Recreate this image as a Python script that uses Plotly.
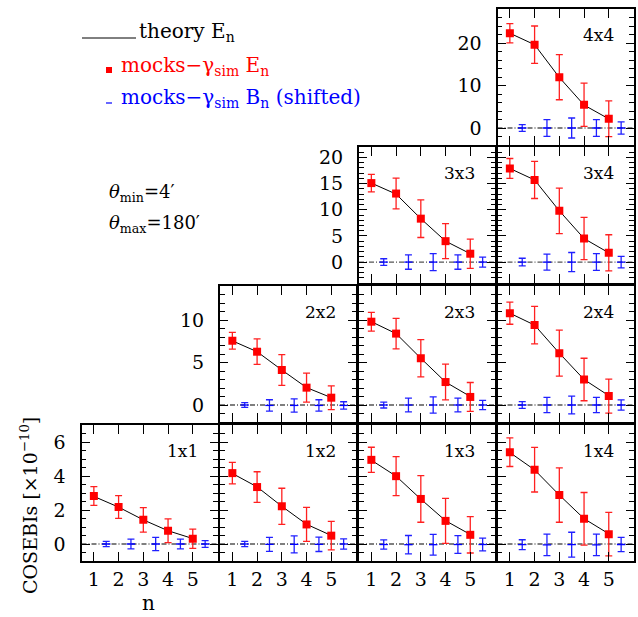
import plotly.graph_objects as go

# ---------------- data ----------------
n = [1, 2, 3, 4, 5]
n_shifted = [1.5, 2.5, 3.5, 4.5, 5.5]
panels = ["1x1", "1x2", "1x3", "1x4", "2x2", "2x3", "2x4", "3x3", "3x4", "4x4"]

theory_E = [
    [2.80, 2.17, 1.42, 0.78, 0.32],
    [4.15, 3.36, 2.22, 1.16, 0.50],
    [4.93, 3.99, 2.64, 1.37, 0.56],
    [5.38, 4.36, 2.88, 1.49, 0.60],
    [7.55, 6.27, 4.12, 2.05, 0.87],
    [9.80, 8.40, 5.50, 2.70, 1.00],
    [10.8, 9.40, 6.10, 3.00, 1.10],
    [15.1, 13.0, 8.30, 4.00, 1.60],
    [17.9, 15.7, 9.80, 4.50, 1.77],
    [22.3, 19.6, 11.9, 5.40, 2.15],
]
mock_E = [
    [2.82, 2.18, 1.42, 0.78, 0.31],
    [4.17, 3.35, 2.22, 1.15, 0.49],
    [4.95, 3.99, 2.65, 1.36, 0.54],
    [5.40, 4.37, 2.88, 1.48, 0.58],
    [7.56, 6.27, 4.12, 2.04, 0.86],
    [9.80, 8.40, 5.50, 2.70, 0.95],
    [10.8, 9.40, 6.10, 3.00, 1.05],
    [15.1, 13.1, 8.30, 4.00, 1.60],
    [17.9, 15.7, 9.80, 4.50, 1.77],
    [22.3, 19.6, 11.95, 5.46, 2.16],
]
mock_E_err = [
    [0.55, 0.67, 0.72, 0.70, 0.57],
    [0.63, 0.90, 1.06, 1.00, 0.84],
    [0.74, 1.15, 1.37, 1.32, 1.07],
    [0.84, 1.31, 1.60, 1.55, 1.28],
    [0.98, 1.50, 1.80, 1.70, 1.40],
    [1.10, 1.80, 2.20, 2.10, 1.70],
    [1.30, 2.20, 2.70, 2.50, 2.00],
    [1.67, 2.94, 3.60, 3.35, 2.80],
    [1.90, 3.55, 4.35, 4.05, 3.45],
    [2.25, 4.40, 5.30, 5.10, 4.20],
]
mock_B = [
    [0.00, 0.00, 0.00, 0.00, 0.00],
    [0.00, -0.02, -0.02, -0.02, 0.00],
    [-0.03, -0.04, -0.04, -0.03, -0.03],
    [-0.04, -0.05, -0.04, -0.05, -0.03],
    [0.00, -0.05, -0.05, -0.05, -0.05],
    [0.00, 0.00, 0.00, 0.00, 0.00],
    [0.00, 0.00, 0.00, 0.00, 0.00],
    [0.00, 0.00, 0.00, 0.00, 0.00],
    [0.00, 0.00, 0.00, 0.00, 0.00],
    [0.00, 0.00, 0.00, 0.00, 0.00],
]
mock_B_err = [
    [0.16, 0.29, 0.39, 0.29, 0.20],
    [0.15, 0.41, 0.50, 0.42, 0.30],
    [0.27, 0.54, 0.61, 0.52, 0.37],
    [0.29, 0.63, 0.73, 0.63, 0.42],
    [0.29, 0.67, 0.78, 0.67, 0.43],
    [0.35, 0.80, 0.95, 0.80, 0.55],
    [0.40, 0.90, 1.05, 0.90, 0.60],
    [0.64, 1.37, 1.62, 1.37, 0.95],
    [0.73, 1.52, 1.83, 1.60, 1.10],
    [0.78, 1.95, 2.35, 1.95, 1.46],
]
x_ticks = [1, 2, 3, 4, 5]

# ---------------- layout geometry ----------------
W, H = 638, 617
FONT = "DejaVu Serif"
col_left = [81.5, 220, 359, 497.5]
row_top = {1: 425, 2: 286, 3: 147, 4: 9}
PW, PH = 136, 136
y_ranges = {1: [-1, 7], 2: [-2, 14], 3: [-4, 22], 4: [-4, 28]}
y_dtick = {1: 2, 2: 5, 3: 5, 4: 10}
y_minor = {1: 0.5, 2: 1, 3: 1, 4: 2}

fig = go.Figure()
layout = dict(
    width=W, height=H,
    margin=dict(l=0, r=0, t=0, b=0),
    paper_bgcolor="white", plot_bgcolor="white",
    showlegend=False,
    font=dict(family=FONT, color="black", size=18),
)
shapes = []
annotations = []

for k, name in enumerate(panels):
    i, j = int(name[0]), int(name[2])
    idx = k + 1
    xa = "xaxis" if idx == 1 else f"xaxis{idx}"
    ya = "yaxis" if idx == 1 else f"yaxis{idx}"
    xr = "x" if idx == 1 else f"x{idx}"
    yr = "y" if idx == 1 else f"y{idx}"

    x0 = col_left[j - 1]
    yt = row_top[i]
    layout[xa] = dict(
        domain=[x0 / W, (x0 + PW) / W], anchor=yr, range=[0.5, 6.0],
        tickvals=x_ticks, ticks="inside", ticklen=9, tickwidth=1.2, tickcolor="black",
        showline=True, linecolor="black", linewidth=2, mirror="allticks",
        showgrid=False, zeroline=False, showticklabels=(i == 1),
        tickfont=dict(family=FONT, size=19), ticklabelstandoff=0,
    )
    layout[ya] = dict(
        domain=[1 - (yt + PH) / H, 1 - yt / H], anchor=xr, range=y_ranges[i],
        dtick=y_dtick[i], tick0=0, ticks="inside", ticklen=8, tickwidth=1.2, tickcolor="black",
        minor=dict(dtick=y_minor[i], tick0=0, ticks="inside", ticklen=4.5, tickwidth=1, tickcolor="black"),
        showline=True, linecolor="black", linewidth=2, mirror="allticks",
        showgrid=False, zeroline=False, showticklabels=(i == j),
        tickfont=dict(family=FONT, size=19), ticklabelstandoff=10,
    )
    # zero reference line
    shapes.append(dict(type="line", xref=f"{xr} domain", x0=0, x1=1, yref=yr, y0=0, y1=0,
                       line=dict(color="#555555", width=1.4, dash="5px,2px,1px,2px"), layer="below"))
    # theory
    fig.add_trace(go.Scatter(x=n, y=theory_E[k], mode="lines", xaxis=xr, yaxis=yr,
                             line=dict(color="black", width=1)))
    # mocks E
    fig.add_trace(go.Scatter(x=n, y=mock_E[k], mode="markers", xaxis=xr, yaxis=yr,
                             marker=dict(symbol="square", size=8, color="#ff0000"),
                             error_y=dict(type="data", array=mock_E_err[k], color="#ff2020",
                                          thickness=1.3, width=3.5)))
    # mocks B (shifted)
    fig.add_trace(go.Scatter(x=n_shifted, y=mock_B[k], mode="markers", xaxis=xr, yaxis=yr,
                             marker=dict(symbol="line-ew", size=6, color="#0000ff",
                                         line=dict(color="#0000ff", width=1.3)),
                             error_y=dict(type="data", array=mock_B_err[k], color="#2020ff",
                                          thickness=1.3, width=3.5)))
    # panel label
    annotations.append(dict(text=name, xref=f"{xr} domain", yref=f"{yr} domain",
                            x=(PW - 18) / PW, y=1 - 26 / PH, xanchor="right", yanchor="middle",
                            showarrow=False, font=dict(family=FONT, size=17, color="black")))

# legend (drawn manually)
shapes.append(dict(type="line", xref="paper", yref="paper", x0=82 / W, x1=136 / W,
                   y0=1 - 38 / H, y1=1 - 38 / H, line=dict(color="black", width=1)))
shapes.append(dict(type="rect", xref="paper", yref="paper", x0=106 / W, x1=112 / W,
                   y0=1 - 73 / H, y1=1 - 67 / H, line=dict(width=0), fillcolor="#ff0000"))
shapes.append(dict(type="line", xref="paper", yref="paper", x0=106 / W, x1=112 / W,
                   y0=1 - 103 / H, y1=1 - 103 / H, line=dict(color="#0000ff", width=1.2)))
annotations += [
    dict(text="theory E<sub>n</sub>", xref="paper", yref="paper", x=137 / W, y=1 - 32 / H,
         xanchor="left", yanchor="middle", showarrow=False, font=dict(size=20, color="black")),
    dict(text="mocks\u2212\u03b3<sub>sim</sub> E<sub>n</sub>", xref="paper", yref="paper",
         x=119 / W, y=1 - 66 / H, xanchor="left", yanchor="middle", showarrow=False,
         font=dict(size=20, color="#ff0000")),
    dict(text="mocks\u2212\u03b3<sub>sim</sub> B<sub>n</sub> (shifted)", xref="paper", yref="paper",
         x=119 / W, y=1 - 98 / H, xanchor="left", yanchor="middle", showarrow=False,
         font=dict(size=20, color="#0000ff")),
    dict(text="<i>\u03b8</i><sub>min</sub>=4\u2032", xref="paper", yref="paper",
         x=107 / W, y=1 - 193 / H, xanchor="left", yanchor="middle", showarrow=False,
         font=dict(size=18, color="black")),
    dict(text="<i>\u03b8</i><sub>max</sub>=180\u2032", xref="paper", yref="paper",
         x=107 / W, y=1 - 224 / H, xanchor="left", yanchor="middle", showarrow=False,
         font=dict(size=18, color="black")),
    dict(text="n", xref="paper", yref="paper", x=148 / W, y=1 - 603 / H,
         xanchor="center", yanchor="middle", showarrow=False, font=dict(size=20, color="black")),
    dict(text="COSEBIs [\u00d710<sup>\u221210</sup>]", xref="paper", yref="paper",
         x=29 / W, y=1 - 506 / H, xanchor="center", yanchor="middle", textangle=-90,
         showarrow=False, font=dict(size=19, color="black")),
]
layout["shapes"] = shapes
layout["annotations"] = annotations
fig.update_layout(**layout)
fig.write_html("out.html", config={"displayModeBar": False},
               post_script="document.body.style.margin='0px';document.body.style.padding='0px';")
